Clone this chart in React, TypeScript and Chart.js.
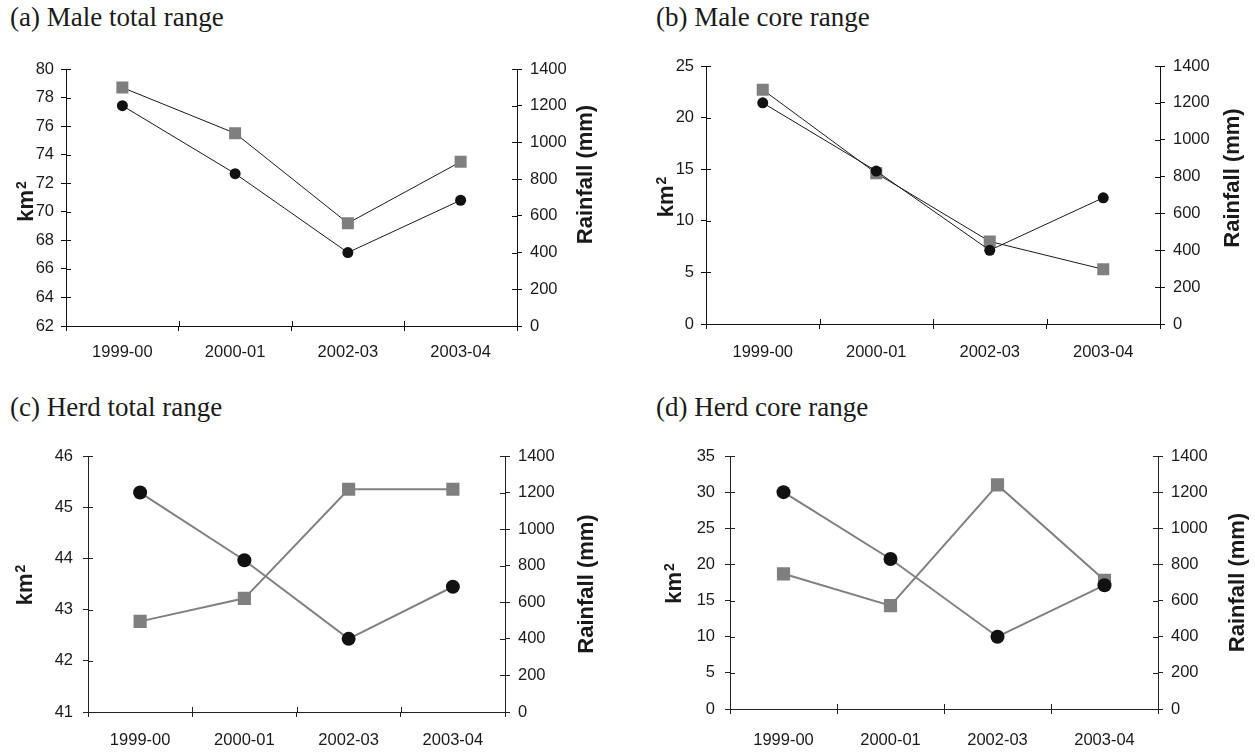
import React, { useEffect, useRef } from 'react';
import { Chart, registerables } from 'chart.js';

Chart.register(...registerables);

// ---------- data ----------
const categories = ['1999-00', '2000-01', '2002-03', '2003-04'];
const rainfallMm = [1200, 830, 400, 685];
const maleTotalKm2 = [78.7, 75.5, 69.2, 73.5];
const maleCoreKm2 = [22.7, 14.6, 8.0, 5.3];
const herdTotalKm2 = [42.77, 43.22, 45.35, 45.35];
const herdCoreKm2 = [18.7, 14.3, 31.0, 17.8];
const panelTitles = ['(a) Male total range', '(b) Male core range', '(c) Herd total range', '(d) Herd core range'];
const kmMin = [62, 0, 41, 0];
const kmMax = [80, 25, 46, 35];
const kmStep = [2, 5, 1, 5];
const rainMin = 0;
const rainMax = 1400;
const rainStep = 200;
const leftAxisTitle = 'km';
const leftAxisTitleSup = '2';
const rightAxisTitle = 'Rainfall (mm)';

const SANS = '"Liberation Sans", Arial, sans-serif';
const SERIF = '"Liberation Serif", "Times New Roman", serif';
const TEXT = '#1a1a1a';

type Layout = {
  x: number; y: number; w: number; h: number;
  pt: number; lw: number; rw: number; bh: number;
  kmOff: number; leftPad: number; xPad: number;
  rOff: number; rShift: number; kShift: number;
  lineColor: string; lineWidth: number; axisColor: string;
  circleR: number; rectR: number;
  titleX: number; titleY: number;
};

const layouts: Layout[] = [
  { x: 0, y: 40, w: 620, h: 340, pt: 29, lw: 66, rw: 103, bh: 54, kmOff: 41, leftPad: 7, xPad: 12, rOff: 69, rShift: -23, kShift: 4, lineColor: '#1a1a1a', lineWidth: 1, axisColor: '#111', circleR: 5.5, rectR: 8.5, titleX: 10, titleY: 4 },
  { x: 627, y: 40, w: 628, h: 340, pt: 26, lw: 79, rw: 95, bh: 56, kmOff: 41, leftPad: 7, xPad: 14, rOff: 73, rShift: -17, kShift: 2, lineColor: '#1a1a1a', lineWidth: 1, axisColor: '#111', circleR: 5.5, rectR: 8.5, titleX: 656, titleY: 4 },
  { x: 0, y: 420, w: 620, h: 334, pt: 36, lw: 88, rw: 115, bh: 42, kmOff: 64, leftPad: 10, xPad: 14, rOff: 82, rShift: 0, kShift: 1, lineColor: '#808080', lineWidth: 2, axisColor: '#222', circleR: 7, rectR: 9.3, titleX: 10, titleY: 394 },
  { x: 627, y: 420, w: 628, h: 334, pt: 36, lw: 103, rw: 97, bh: 45, kmOff: 57, leftPad: 10, xPad: 17, rOff: 80, rShift: 0, kShift: 1, lineColor: '#808080', lineWidth: 2, axisColor: '#222', circleR: 7, rectR: 9.3, titleX: 656, titleY: 394 },
];

const rangeSeries = [maleTotalKm2, maleCoreKm2, herdTotalKm2, herdCoreKm2];

function Panel({ idx }: { idx: number }) {
  const ref = useRef<HTMLCanvasElement>(null);
  const L = layouts[idx];
  useEffect(() => {
    const canvas = ref.current;
    if (!canvas) return;
    const align = (v: number) => Math.round(v) + 0.5;
    const innerTicks = {
      id: 'innerTicks',
      beforeDatasetsDraw(chart: any) {
        const ctx = chart.ctx;
        const { left, right, bottom } = chart.chartArea;
        ctx.save();
        ctx.strokeStyle = L.axisColor;
        ctx.lineWidth = 1;
        ctx.beginPath();
        const yl = chart.scales.yL;
        yl.ticks.forEach((_t: any, i: number) => {
          const y = align(yl.getPixelForTick(i));
          ctx.moveTo(left, y);
          ctx.lineTo(left + 5, y);
        });
        const yr = chart.scales.yR;
        yr.ticks.forEach((_t: any, i: number) => {
          const y = align(yr.getPixelForTick(i));
          ctx.moveTo(right - 5, y);
          ctx.lineTo(right, y);
        });
        const xs = chart.scales.x;
        for (let i = 0; i <= categories.length; i++) {
          const px = align(xs.getPixelForValue(i - 0.5));
          ctx.moveTo(px, bottom);
          ctx.lineTo(px, bottom - 5);
        }
        ctx.stroke();
        ctx.restore();
      },
    };
    const axisTitles = {
      id: 'axisTitles',
      afterDraw(chart: any) {
        const ctx = chart.ctx;
        const { left, right, top, bottom } = chart.chartArea;
        const mid = (top + bottom) / 2;
        // right: Rainfall (mm), reading bottom to top
        ctx.save();
        ctx.translate(right + L.rOff, mid + L.rShift);
        ctx.rotate(-Math.PI / 2);
        ctx.font = `bold 22px ${SANS}`;
        ctx.fillStyle = TEXT;
        ctx.textAlign = 'center';
        ctx.textBaseline = 'middle';
        ctx.fillText(rightAxisTitle, 0, 0);
        ctx.restore();
        // left: km with superscript 2
        ctx.save();
        ctx.translate(left - L.kmOff, mid + L.kShift);
        ctx.rotate(-Math.PI / 2);
        ctx.fillStyle = TEXT;
        ctx.textBaseline = 'alphabetic';
        ctx.textAlign = 'left';
        ctx.font = `bold 22px ${SANS}`;
        const wKm = ctx.measureText(leftAxisTitle).width;
        ctx.font = `bold 14px ${SANS}`;
        const wSup = ctx.measureText(leftAxisTitleSup).width;
        const x0 = -(wKm + wSup + 1) / 2;
        ctx.font = `bold 22px ${SANS}`;
        ctx.fillText(leftAxisTitle, x0, 8);
        ctx.font = `bold 14px ${SANS}`;
        ctx.fillText(leftAxisTitleSup, x0 + wKm + 1, 1);
        ctx.restore();
      },
    };
    const tickFont = { family: SANS, size: 16.5 };
    const fmt = (v: any) => String(v);
    const gridCfg = { display: true, drawOnChartArea: false, drawTicks: true, tickLength: 5, color: L.axisColor, lineWidth: 1 };
    const borderCfg = { display: true, color: L.axisColor, width: 1 };
    const chart = new Chart(canvas, {
      type: 'line',
      data: {
        labels: categories,
        datasets: [
          {
            label: 'Rainfall',
            data: rainfallMm,
            yAxisID: 'yR',
            borderColor: L.lineColor,
            borderWidth: L.lineWidth,
            pointStyle: 'circle',
            pointRadius: L.circleR,
            pointBackgroundColor: '#111',
            pointBorderColor: '#111',
            pointBorderWidth: 0,
            tension: 0,
            fill: false,
          },
          {
            label: 'Range',
            data: rangeSeries[idx],
            yAxisID: 'yL',
            borderColor: L.lineColor,
            borderWidth: L.lineWidth,
            pointStyle: 'rect',
            pointRadius: L.rectR,
            pointBackgroundColor: '#7f7f7f',
            pointBorderColor: '#7f7f7f',
            pointBorderWidth: 0,
            tension: 0,
            fill: false,
          },
        ],
      },
      options: {
        animation: false,
        responsive: false,
        maintainAspectRatio: false,
        devicePixelRatio: 1,
        layout: { padding: { left: 0, right: 0, top: L.pt, bottom: 0 }, autoPadding: false },
        plugins: { legend: { display: false }, tooltip: { enabled: false }, title: { display: false } },
        scales: {
          x: {
            type: 'category',
            offset: true,
            grid: { ...gridCfg, offset: true },
            border: borderCfg,
            ticks: { font: tickFont, color: TEXT, padding: L.xPad, maxRotation: 0, autoSkip: false },
            afterFit: (s: any) => { s.height = L.bh; },
          },
          yL: {
            type: 'linear',
            position: 'left',
            min: kmMin[idx],
            max: kmMax[idx],
            grid: gridCfg,
            border: borderCfg,
            ticks: { stepSize: kmStep[idx], font: tickFont, color: TEXT, padding: L.leftPad, callback: fmt },
            afterFit: (s: any) => { s.width = L.lw; },
          },
          yR: {
            type: 'linear',
            position: 'right',
            min: rainMin,
            max: rainMax,
            grid: gridCfg,
            border: borderCfg,
            ticks: { stepSize: rainStep, font: tickFont, color: TEXT, padding: 8, callback: fmt },
            afterFit: (s: any) => { s.width = L.rw; },
          },
        },
      } as any,
      plugins: [innerTicks, axisTitles],
    });
    return () => chart.destroy();
  }, []);
  return (
    <>
      <div style={{ position: 'absolute', left: L.titleX, top: L.titleY, font: `27px/27px ${SERIF}`, color: TEXT, whiteSpace: 'nowrap' }}>
        {panelTitles[idx]}
      </div>
      <canvas ref={ref} width={L.w} height={L.h} style={{ position: 'absolute', left: L.x, top: L.y, width: L.w, height: L.h }} />
    </>
  );
}

export default function App() {
  return (
    <div style={{ position: 'absolute', left: 0, top: 0, width: 1255, height: 754, background: '#fff', overflow: 'hidden' }}>
      {[0, 1, 2, 3].map((i) => <Panel key={i} idx={i} />)}
    </div>
  );
}
